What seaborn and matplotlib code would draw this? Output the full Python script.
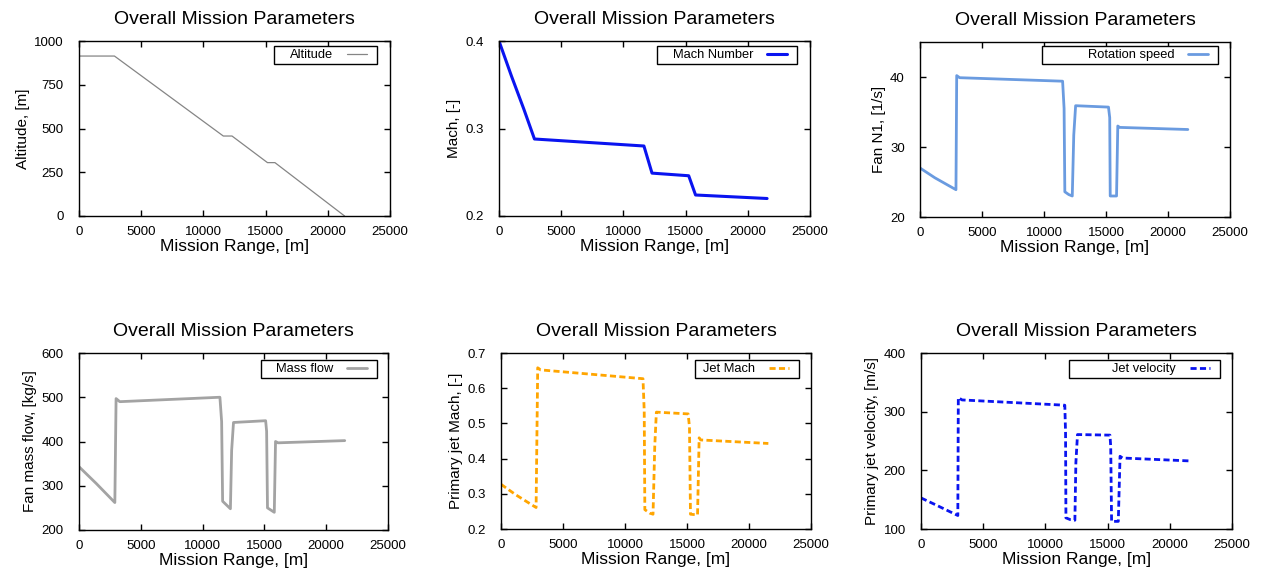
import numpy as np
import pandas as pd
import matplotlib
matplotlib.use("Agg")
import matplotlib.pyplot as plt
from matplotlib.patches import Rectangle
import seaborn as sns

# mission profile data
alt_x = [0, 2850, 11600, 12300, 15150, 15750, 21350]
alt_y = [914, 914, 457, 457, 305, 305, 0]

mach_x = [0, 1000, 2000, 2850, 11650, 12300, 15250, 15800, 21550]
mach_y = [0.400, 0.360, 0.322, 0.288, 0.280, 0.249, 0.246, 0.224, 0.220]

n1_x = [0, 1200, 2900, 2960, 3200, 11500, 11620, 11680, 12000, 12280, 12400,
        12550, 15200, 15300, 15340, 15850, 15950, 16100, 21600]
n1_y = [27.0, 25.6, 23.9, 40.2, 39.9, 39.4, 35.5, 23.6, 23.2, 23.0, 31.7,
        35.9, 35.7, 34.2, 23.0, 23.0, 33.0, 32.8, 32.5]

mf_x = [0, 1400, 2900, 3000, 3300, 11400, 11540, 11620, 12250, 12350, 12500,
        15100, 15180, 15250, 15800, 15900, 16100, 21500]
mf_y = [343, 305, 262, 497, 490, 500, 445, 265, 248, 380, 443,
        447, 423, 250, 240, 400, 397, 402]

jm_x = [0, 1200, 2830, 2960, 3200, 11450, 11550, 11600, 12000, 12260, 12400,
        12530, 15090, 15200, 15280, 15850, 15980, 16100, 21560]
jm_y = [0.327, 0.297, 0.261, 0.658, 0.652, 0.627, 0.535, 0.255, 0.245, 0.242, 0.435,
        0.532, 0.527, 0.490, 0.242, 0.240, 0.459, 0.453, 0.443]

jv_x = [0, 1200, 2960, 3000, 3300, 11560, 11620, 11650, 12000, 12370, 12450,
        12580, 15190, 15250, 15320, 15860, 16000, 16200, 21640]
jv_y = [153, 141, 123, 324, 320, 311, 264, 119, 116, 115, 213,
        261, 260, 241, 113, 113, 224, 221, 216]

sns.set_style("ticks")
plt.rcParams['font.family'] = ['Liberation Sans', 'DejaVu Sans']
for k in ['text.color', 'axes.labelcolor', 'xtick.color', 'ytick.color']:
    plt.rcParams[k] = 'black'

W, H = 1265, 574
fig = plt.figure(figsize=(W / 100, H / 100), dpi=100)

# (x, y, label, ylabel, color, lw, dashed, ylim, yticks, axes px rect, key box px rect)
panels = [
    (alt_x, alt_y, 'Altitude', 'Altitude, [m]', '#858585', 0.9, False,
     (0, 1000), [0, 250, 500, 750, 1000], (79, 41, 311, 175), (274, 46, 103, 18)),
    (mach_x, mach_y, 'Mach Number', 'Mach, [-]', '#0a14f0', 2.2, False,
     (0.2, 0.4), [0.2, 0.3, 0.4], (499, 41, 311, 175), (657, 46, 140, 18)),
    (n1_x, n1_y, 'Rotation speed', 'Fan N1, [1/s]', '#6a9be0', 2.0, False,
     (20, 45), [20, 30, 40], (920, 42, 310, 175), (1042, 46, 176, 18)),
    (mf_x, mf_y, 'Mass flow', 'Fan mass flow, [kg/s]', '#a3a3a3', 2.0, False,
     (200, 600), [200, 300, 400, 500, 600], (79, 353, 309, 177), (261, 360, 116, 18)),
    (jm_x, jm_y, 'Jet Mach', 'Primary jet Mach, [-]', '#ffa500', 2.0, True,
     (0.2, 0.7), [0.2, 0.3, 0.4, 0.5, 0.6, 0.7], (501, 353, 310, 176), (695, 360, 104, 18)),
    (jv_x, jv_y, 'Jet velocity', 'Primary jet velocity, [m/s]', '#0a14f0', 2.0, True,
     (100, 400), [100, 200, 300, 400], (921, 353, 311, 176), (1069, 360, 151, 18)),
]

for xs, ys, lab, ylab, col, lw, dashed, ylim, yt, rect, lrect in panels:
    l, t, w, h = rect
    ax = fig.add_axes([l / W, 1 - (t + h) / H, w / W, h / H])
    df = pd.DataFrame({'x': xs, 'y': ys})
    sns.lineplot(data=df, x='x', y='y', ax=ax, color=col, lw=lw, sort=False,
                 estimator=None, label=lab,
                 linestyle=(0, (2.2, 1.2)) if dashed else '-')
    ax.set_xlim(0, 25000)
    ax.set_ylim(*ylim)
    ax.set_xticks([0, 5000, 10000, 15000, 20000, 25000])
    ax.set_yticks(yt)
    ax.tick_params(direction='in', length=4, width=1, top=True, right=True,
                   labelsize=9.5, colors='black')
    ax.tick_params(axis='x', pad=7)
    ax.tick_params(axis='y', pad=11)
    for s in ax.spines.values():
        s.set_color('black')
        s.set_linewidth(1)
    ax.set_title('Overall Mission Parameters', fontsize=14, pad=12)
    ax.set_xlabel('Mission Range, [m]', fontsize=12.5, labelpad=1)
    ax.set_ylabel(ylab, fontsize=11, labelpad=3)

    # gnuplot-style key: fixed-size box, label right-aligned before the sample
    ll, lt, lw_, lh = lrect
    ax.add_patch(Rectangle((ll / W, 1 - (lt + lh) / H), lw_ / W, lh / H,
                           transform=fig.transFigure, facecolor='white',
                           edgecolor='black', lw=1, zorder=4, clip_on=False))
    leg = ax.legend(loc='center right', markerfirst=False, fontsize=9.3,
                    bbox_to_anchor=((ll + lw_ - 5) / W, 1 - (lt + lh / 2) / H),
                    bbox_transform=fig.transFigure, borderaxespad=0,
                    frameon=False, handlelength=1.5, handletextpad=1.1,
                    borderpad=0.4)
    leg.set_zorder(6)

fig.savefig('out.png', dpi=100)
